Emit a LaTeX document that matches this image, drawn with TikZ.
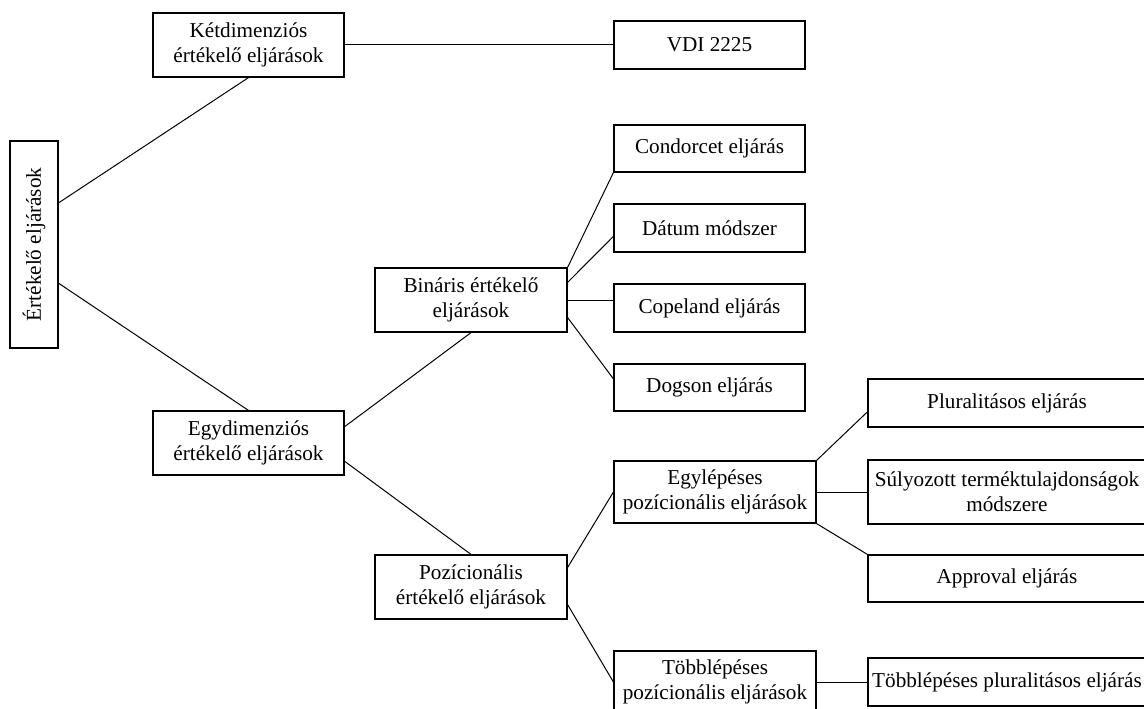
\documentclass[tikz,border=0pt]{standalone}
\usepackage{fontspec}
\setmainfont{Liberation Serif}
\usetikzlibrary{calc}

% sizes are given in pixel units (1 px = 0.75 pt)
\tikzset{
  wh/.style 2 args={minimum width=#1*0.75pt, minimum height=#2*0.75pt},
  box/.style={draw=black, line width=0.9pt, rectangle, inner sep=0pt,
              align=center, font=\fontsize{15.9}{18.6}\selectfont},
  link/.style={draw=black, line width=0.75pt},
}

\begin{document}
\begin{tikzpicture}[x=0.75pt, y=-0.75pt]
  \useasboundingbox (0,0) rectangle (1144,709);
  \clip (0,0) rectangle (1144,709);

  % root (text set vertically)
  \node[box, wh={48}{207},
        label={[rotate=90, font=\fontsize{15.9}{18.6}\selectfont]center:Értékelő eljárások}]
        (ert) at (34,244.5) {};

  % second level
  \node[box, wh={191}{64}] (ketdim) at (248.5,45) {Kétdimenziós\\értékelő eljárások};
  \node[box, wh={191}{64}] (egydim) at (248.5,443) {Egydimenziós\\értékelő eljárások};

  % third level
  \node[box, wh={192}{64}] (binaris) at (471,300) {Bináris értékelő\\eljárások};
  \node[box, wh={192}{64}] (pozic) at (471,587) {Pozícionális\\értékelő eljárások};

  % fourth level
  \node[box, wh={191}{48}] (vdi) at (709.5,45) {VDI 2225};
  \node[box, wh={191}{47}] (condorcet) at (709.5,148.5) {Condorcet eljárás};
  \node[box, wh={191}{48}] (datum) at (709.5,228) {Dátum módszer};
  \node[box, wh={191}{48}] (copeland) at (709.5,308) {Copeland eljárás};
  \node[box, wh={191}{47}] (dogson) at (709.5,387.5) {Dogson eljárás};
  \node[box, wh={202}{62}] (egyl) at (715,492) {Egylépéses\\pozícionális eljárások};
  \node[box, wh={202}{62}] (tobbl) at (715,682) {Többlépéses\\pozícionális eljárások};

  % fifth level
  \node[box, wh={278}{48}] (plural) at (1007,403) {Pluralitásos eljárás};
  \node[box, wh={278}{64}] (sulyoz) at (1007,492) {Súlyozott terméktulajdonságok\\módszere};
  \node[box, wh={278}{47}] (approval) at (1007,578.5) {Approval eljárás};
  \node[box, wh={278}{48}] (tobbplur) at (1007,682) {Többlépéses pluralitásos eljárás};

  % connectors
  \draw[link] ($(ert.north east)!0.30!(ert.south east)$) -- (ketdim.south);
  \draw[link] ($(ert.north east)!0.686!(ert.south east)$) -- (egydim.north);
  \draw[link] (ketdim.east) -- (ketdim.east -| vdi.west);

  \draw[link] ($(egydim.north east)!0.25!(egydim.south east)$) -- (binaris.south);
  \draw[link] ($(egydim.north east)!0.78!(egydim.south east)$) -- (pozic.north);

  \draw[link] (binaris.north east) -- (condorcet.south west);
  \draw[link] ($(binaris.north east)!0.23!(binaris.south east)$) -- ($(datum.north west)!0.67!(datum.south west)$);
  \draw[link] (binaris.east) -- (binaris.east -| copeland.west);
  \draw[link] ($(binaris.north east)!0.77!(binaris.south east)$) -- ($(dogson.north west)!0.32!(dogson.south west)$);

  \draw[link] ($(pozic.north east)!0.2!(pozic.south east)$) -- (egyl.west);
  \draw[link] ($(pozic.north east)!0.77!(pozic.south east)$) -- (tobbl.west);

  \draw[link] (egyl.north east) -- ($(plural.north west)!0.68!(plural.south west)$);
  \draw[link] (egyl.east) -- (sulyoz.west);
  \draw[link] (egyl.south east) -- (approval.north west);
  \draw[link] (tobbl.east) -- (tobbplur.west);
\end{tikzpicture}
\end{document}
